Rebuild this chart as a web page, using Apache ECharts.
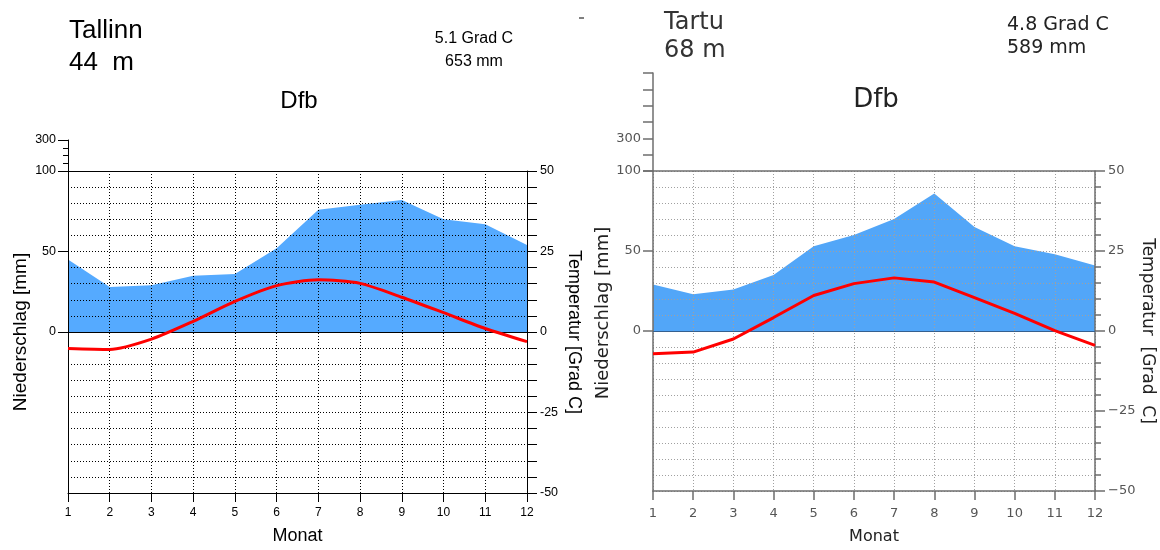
<!DOCTYPE html>
<html>
<head>
<meta charset="utf-8">
<script src="https://cdn.jsdelivr.net/npm/echarts@6/dist/echarts.min.js"></script>
<style>
  html, body { margin: 0; padding: 0; background: #fff; }
  #chart { width: 1160px; height: 550px; }
</style>
</head>
<body>
<div id="chart"></div>
<script>
// Klimadiagramme Tallinn / Tartu
const months = [1, 2, 3, 4, 5, 6, 7, 8, 9, 10, 11, 12]

const tallinnPrecip = [45, 28, 29, 35, 36, 52, 76, 79, 82, 70, 67, 54]
const tallinnTemp = [-5.1, -5.4, -2.2, 3.3, 9.5, 14.4, 16.2, 15.1, 10.8, 6.0, 1.1, -3.0]
const tartuPrecip = [29, 23, 26, 35, 53, 60, 70, 86, 65, 53, 48, 41]
const tartuTemp = [-7.1, -6.6, -2.5, 4.2, 11.1, 14.8, 16.6, 15.3, 10.4, 5.5, 0.1, -4.5]

const precipTicks = [0, 50, 100]
const tempTicks = [-50, -25, 0, 25, 50]
const upperTicks = [300]

const FONT_A = '"Liberation Sans", Arial, sans-serif'
const FONT_B = '"DejaVu Sans", sans-serif'

const tallinn = {
  precip: tallinnPrecip, temp: tallinnTemp,
  left: 68, width: 459, height: 325,
  upperTop: 140, upperMax: 300, upperStep: 50, upperTickLen: 5,
  font: FONT_A, axisColor: '#000', axisWidth: 1, labelColor: '#000',
  yLabelSize: 12.5, xLabelSize: 12, xLabelMargin: 14,
  gridColor: '#000', zeroColor: '#000', nameColor: '#000',
  blue: '#55aaff', smooth: 0.25, tempInterval: 5, minor: false,
  leftName: 'Niederschlag [mm]', leftNameSize: 19, leftNameGap: 38, leftNamePad: [0, 0, 0, 0],
  rightName: 'Temperatur [Grad C]', rightNameSize: 18, rightNameGap: 38,
  monatSize: 18, monatGap: 34, minus: '-'
}

const tartu = {
  precip: tartuPrecip, temp: tartuTemp,
  left: 653, width: 442, height: 323,
  upperTop: 73, upperMax: 700, upperStep: 100, upperTickLen: 10,
  font: FONT_B, axisColor: '#6e6e6e', axisWidth: 1.5, labelColor: '#555',
  yLabelSize: 13, xLabelSize: 13, xLabelMargin: 16,
  gridColor: '#a0a0a0', zeroColor: '#35608f', nameColor: '#222',
  blue: '#52a6f8', smooth: false, tempInterval: 25, minor: true,
  leftName: 'Niederschlag [mm]', leftNameSize: 18, leftNameGap: 37, leftNamePad: [0, 0, 0, 36],
  rightName: 'Temperatur  [Grad  C]', rightNameSize: 17, rightNameGap: 44,
  monatSize: 16, monatGap: 38, minus: '\u2212'
}

const pair = vals => months.map((m, i) => [m, vals[i]])

function panel (p, k) {
  const gi = 2 * k
  const yi = 4 * k
  const ax = { color: p.axisColor, width: p.axisWidth }
  const dots = { color: p.gridColor, type: [1, 2], width: 1 }
  const lbl = { color: p.labelColor, fontFamily: p.font, fontSize: p.yLabelSize }
  const nameStyle = size => ({ color: p.nameColor, fontFamily: p.font, fontSize: size })

  const grid = [
    { left: p.left, top: 171, width: p.width, height: p.height },
    { left: p.left, top: p.upperTop, width: p.width, height: 171 - p.upperTop }
  ]

  const xAxis = [
    {
      gridIndex: gi, type: 'value', min: 1, max: 12, interval: 1, z: 3,
      axisLine: { onZero: false, lineStyle: ax },
      axisTick: { length: 9, lineStyle: ax },
      axisLabel: { color: p.labelColor, fontFamily: p.font, fontSize: p.xLabelSize, margin: p.xLabelMargin },
      splitLine: { lineStyle: dots },
      name: 'Monat', nameLocation: 'middle', nameGap: p.monatGap,
      nameTextStyle: nameStyle(p.monatSize)
    },
    { gridIndex: gi + 1, type: 'value', min: 1, max: 12, show: false }
  ]

  const yAxis = [
    {
      gridIndex: gi, type: 'value', position: 'left', min: -100, max: 100, interval: 50, z: 3,
      axisLine: { show: true, lineStyle: ax },
      axisTick: { show: true, length: 10, lineStyle: ax, customValues: precipTicks },
      axisLabel: { ...lbl, margin: 12, customValues: precipTicks },
      splitLine: { show: false },
      name: p.leftName, nameLocation: 'middle', nameRotate: 90, nameGap: p.leftNameGap,
      nameTextStyle: { ...nameStyle(p.leftNameSize), padding: p.leftNamePad }
    },
    {
      gridIndex: gi, type: 'value', position: 'right', min: -50, max: 50, interval: p.tempInterval, z: 3,
      axisLine: { show: true, lineStyle: ax },
      axisTick: { show: true, length: 10, lineStyle: ax },
      minorTick: { show: p.minor, splitNumber: 5, length: 6, lineStyle: ax },
      axisLabel: {
        ...lbl, margin: 13, customValues: tempTicks,
        formatter: v => String(v).replace('-', p.minus)
      },
      splitLine: { show: true, lineStyle: dots },
      minorSplitLine: { show: p.minor, lineStyle: dots },
      name: p.rightName, nameLocation: 'middle', nameRotate: -90, nameGap: p.rightNameGap,
      nameTextStyle: nameStyle(p.rightNameSize)
    },
    {
      gridIndex: gi + 1, type: 'value', position: 'left', min: 100, max: p.upperMax, interval: p.upperStep,
      axisLine: { show: true, lineStyle: ax },
      axisTick: { show: true, length: p.upperTickLen, lineStyle: ax },
      axisLabel: { show: false },
      splitLine: { show: false }
    },
    {
      gridIndex: gi + 1, type: 'value', position: 'left', min: 100, max: p.upperMax, interval: p.upperStep,
      axisLine: { show: false },
      axisTick: { show: true, length: 10, lineStyle: ax, customValues: upperTicks },
      axisLabel: { ...lbl, margin: 12, customValues: upperTicks },
      splitLine: { show: false }
    }
  ]

  const series = [
    {
      type: 'line', xAxisIndex: gi, yAxisIndex: yi, data: pair(p.precip),
      symbol: 'none', silent: true, z: 2,
      lineStyle: { width: 0 }, itemStyle: { color: p.blue },
      areaStyle: { color: p.blue, opacity: 1 },
      markLine: {
        silent: true, symbol: ['none', 'none'], label: { show: false },
        lineStyle: { type: 'solid', width: 1 },
        data: [
          { yAxis: 0, lineStyle: { color: p.zeroColor, type: 'solid', width: 1 } },
          { yAxis: 100, lineStyle: { color: p.axisColor, type: 'solid', width: p.axisWidth } }
        ]
      }
    },
    {
      type: 'line', xAxisIndex: gi, yAxisIndex: yi + 1, data: pair(p.temp),
      symbol: 'none', silent: true, z: 5, smooth: p.smooth,
      lineStyle: { color: '#ff0000', width: 3 }, itemStyle: { color: '#ff0000' }
    }
  ]

  return { grid, xAxis, yAxis, series }
}

const a = panel(tallinn, 0)
const b = panel(tartu, 1)

const option = {
  animation: false,
  backgroundColor: '#fff',
  grid: [...a.grid, ...b.grid],
  xAxis: [...a.xAxis, ...b.xAxis],
  yAxis: [...a.yAxis, ...b.yAxis],
  series: [...a.series, ...b.series],
  graphic: [
    { type: 'text', x: 69, y: 14.5, style: { text: 'Tallinn\n44  m', font: '26px ' + FONT_A, lineHeight: 32, fill: '#000', verticalAlign: 'top' } },
    { type: 'text', x: 474, y: 27.5, style: { text: '5.1 Grad C\n653 mm', font: '16px ' + FONT_A, lineHeight: 23, fill: '#000', align: 'center', verticalAlign: 'top' } },
    { type: 'text', x: 299, y: 89.5, style: { text: 'Dfb', font: '24px ' + FONT_A, lineHeight: 24, fill: '#000', align: 'center', verticalAlign: 'top' } },
    { type: 'text', x: 664, y: 9.5, style: { text: 'Tartu\n68 m', font: '24px ' + FONT_B, lineHeight: 27.5, fill: '#333', verticalAlign: 'top' } },
    { type: 'text', x: 1007, y: 13, style: { text: '4.8 Grad C\n589 mm', font: '19px ' + FONT_B, lineHeight: 23.5, fill: '#222', verticalAlign: 'top' } },
    { type: 'text', x: 876, y: 87, style: { text: 'Dfb', font: '26px ' + FONT_B, lineHeight: 26, fill: '#222', align: 'center', verticalAlign: 'top' } },
    { type: 'line', shape: { x1: 579, y1: 18, x2: 584, y2: 18 }, style: { stroke: '#000', lineWidth: 1 } }
  ]
}

const myChart = echarts.init(document.getElementById('chart'), null, { renderer: 'canvas' })
myChart.setOption(option)
</script>
</body>
</html>
